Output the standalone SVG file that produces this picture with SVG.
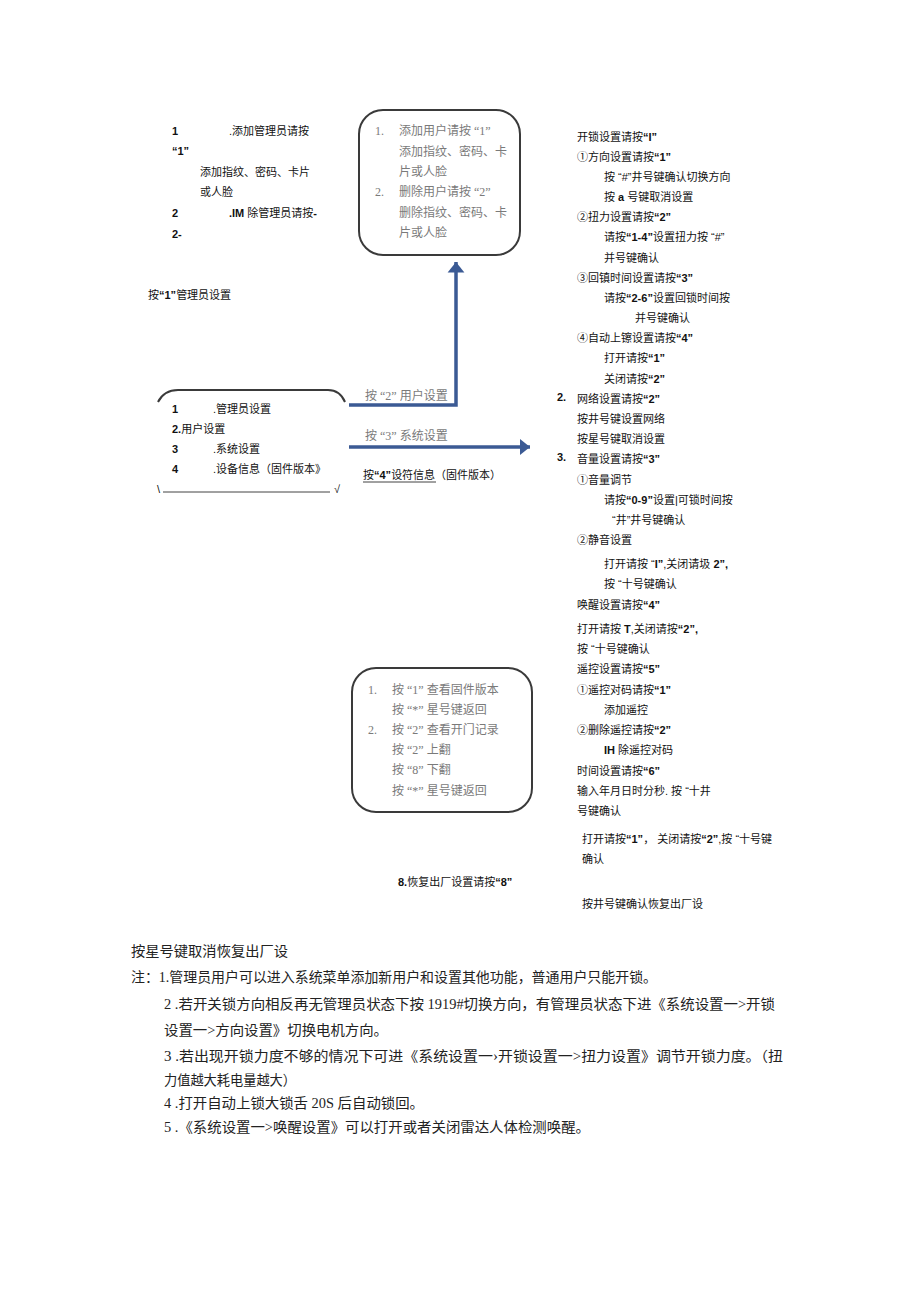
<svg xmlns="http://www.w3.org/2000/svg" width="920" height="1301" viewBox="0 0 920 1301">
<style>
.t{font-family:"Liberation Sans","Noto Sans CJK SC",sans-serif;font-size:11px;fill:#111}
.b{font-weight:bold}
.g{font-family:"Liberation Serif","Noto Sans CJK SC",serif;font-size:12px;fill:#7a7a7a}
.n{font-family:"Liberation Serif","Noto Sans CJK SC",serif;font-size:14px;fill:#222}
.box{fill:none;stroke:#3a3a3a;stroke-width:2}
.arr{fill:none;stroke:#3b5a94;stroke-width:3.5}
</style>
<defs>
<marker id="ah" markerWidth="6" markerHeight="6" refX="3" refY="3" orient="auto" markerUnits="strokeWidth">
<path d="M0,0.6 L3,3 L0,5.4 Z" fill="#3b5a94"/>
</marker>
</defs>
<rect width="920" height="1301" fill="#fff"/>

<g id="admin-notes">
<text class="t b" x="172" y="135">1</text>
<text class="t" x="229" y="135">.添加管理员请按</text>
<text class="t b" x="172" y="155">“1”</text>
<text class="t" x="200" y="176">添加指纹、密码、卡片</text>
<text class="t" x="200" y="196">或人脸</text>
<text class="t b" x="172" y="217">2</text>
<text class="t" x="229" y="217"><tspan class="b">.IM</tspan> 除管理员请按<tspan class="b">-</tspan></text>
<text class="t b" x="172" y="238">2-</text>
<text class="t" x="148" y="299">按<tspan class="b">“1”</tspan>管理员设置</text>
</g>

<g id="user-box">
<rect class="box" x="359" y="110" width="161" height="145" rx="24"/>
<text class="g" x="375" y="135">1.</text>
<text class="g" x="399" y="135">添加用户请按 “1”</text>
<text class="g" x="399" y="156">添加指纹、密码、卡</text>
<text class="g" x="399" y="176">片或人脸</text>
<text class="g" x="375" y="196">2.</text>
<text class="g" x="399" y="196">删除用户请按 “2”</text>
<text class="g" x="399" y="217">删除指纹、密码、卡</text>
<text class="g" x="399" y="237">片或人脸</text>
</g>

<g id="main-menu">
<path class="box" d="M158,402 Q164,390 178,390 L328,390 Q340,390 345,402" stroke-width="1.5"/>
<text class="t b" x="172" y="413">1</text>
<text class="t" x="213" y="413">.管理员设置</text>
<text class="t" x="172" y="433"><tspan class="b">2.</tspan>用户设置</text>
<text class="t b" x="172" y="453">3</text>
<text class="t" x="213" y="453">.系统设置</text>
<text class="t b" x="172" y="473">4</text>
<text class="t" x="213" y="473">.设备信息（固件版本》</text>
<text class="t" x="157" y="493">\</text>
<line x1="163" y1="492" x2="330" y2="492" stroke="#111" stroke-width="0.8"/>
<text class="t" x="334" y="493" font-size="9">√</text>
</g>

<g id="connectors">
<path class="arr" d="M349,405 L456,405 L456,262" marker-end="url(#ah)"/>
<path class="arr" d="M349,447 L530,447" marker-end="url(#ah)"/>
<text class="g" x="365" y="400">按 “2” 用户设置</text>
<text class="g" x="365" y="440">按 “3” 系统设置</text>
<text class="t" x="363" y="479">按<tspan class="b">“4”</tspan>设符信息（固件版本）</text>
<line x1="363" y1="482" x2="436" y2="482" stroke="#111" stroke-width="0.8"/>
</g>

<g id="system-settings">
<text class="t" x="577" y="141">开锁设置请按<tspan class="b">“I”</tspan></text>
<text class="t" x="577" y="161">①方向设置请按<tspan class="b">“1”</tspan></text>
<text class="t" x="604" y="181">按 “#”井号键确认切换方向</text>
<text class="t" x="604" y="201">按 <tspan class="b">a</tspan> 号键取消设置</text>
<text class="t" x="577" y="221">②扭力设置请按<tspan class="b">“2”</tspan></text>
<text class="t" x="604" y="241">请按<tspan class="b">“1-4”</tspan>设置扭力按 “#”</text>
<text class="t" x="604" y="262">并号键确认</text>
<text class="t" x="577" y="282">③回镇时间设置请按<tspan class="b">“3”</tspan></text>
<text class="t" x="604" y="302">请按<tspan class="b">“2-6”</tspan>设置回锁时间按</text>
<text class="t" x="635" y="322">并号键确认</text>
<text class="t" x="577" y="342">④自动上镲设置请按<tspan class="b">“4”</tspan></text>
<text class="t" x="604" y="362">打开请按<tspan class="b">“1”</tspan></text>
<text class="t" x="604" y="383">关闭请按<tspan class="b">“2”</tspan></text>
<text class="t b" x="557" y="401">2.</text>
<text class="t" x="577" y="403">网络设置请按<tspan class="b">“2”</tspan></text>
<text class="t" x="577" y="423">按井号键设置网络</text>
<text class="t" x="577" y="443">按星号键取消设置</text>
<text class="t b" x="557" y="461">3.</text>
<text class="t" x="577" y="463">音量设置请按<tspan class="b">“3”</tspan></text>
<text class="t" x="577" y="484">①音量调节</text>
<text class="t" x="604" y="504">请按<tspan class="b">“0-9”</tspan>设置|可锁时间按</text>
<text class="t" x="612" y="524">“井”井号键确认</text>
<text class="t" x="577" y="544">②静音设置</text>
<text class="t" x="604" y="568">打开请按 “<tspan class="b">I”</tspan>,关闭请圾 <tspan class="b">2”,</tspan></text>
<text class="t" x="604" y="588">按 “十号键确认</text>
<text class="t" x="577" y="609">唤醒设置请按<tspan class="b">“4”</tspan></text>
<text class="t" x="577" y="633">打开请按 <tspan class="b">T</tspan>,关闭请按<tspan class="b">“2”,</tspan></text>
<text class="t" x="577" y="653">按 “十号键确认</text>
<text class="t" x="577" y="673">遥控设置请按<tspan class="b">“5”</tspan></text>
<text class="t" x="577" y="694">①遥控对码请按<tspan class="b">“1”</tspan></text>
<text class="t" x="604" y="714">添加遥控</text>
<text class="t" x="577" y="734">②删除遥控请按<tspan class="b">“2”</tspan></text>
<text class="t" x="604" y="754"><tspan class="b">IH</tspan> 除遥控对码</text>
<text class="t" x="577" y="775">时间设置请按<tspan class="b">“6”</tspan></text>
<text class="t" x="577" y="795">输入年月日时分秒. 按 “十井</text>
<text class="t" x="577" y="815">号键确认</text>
<text class="t" x="582" y="843">打开请按<tspan class="b">“1”</tspan>， 关闭请按<tspan class="b">“2”</tspan>,按 “十号键</text>
<text class="t" x="582" y="863">确认</text>
<text class="t" x="398" y="886"><tspan class="b">8.</tspan>恢复出厂设置请按<tspan class="b">“8”</tspan></text>
<text class="t" x="582" y="908">按井号键确认恢复出厂设</text>
</g>

<g id="info-box">
<rect class="box" x="352" y="668" width="180" height="144" rx="24"/>
<text class="g" x="368" y="694">1.</text>
<text class="g" x="392" y="694">按 “1” 查看固件版本</text>
<text class="g" x="392" y="714">按 “*” 星号键返回</text>
<text class="g" x="368" y="734">2.</text>
<text class="g" x="392" y="734">按 “2” 查看开门记录</text>
<text class="g" x="392" y="754">按 “2” 上翻</text>
<text class="g" x="392" y="774">按 “8” 下翻</text>
<text class="g" x="392" y="795">按 “*” 星号键返回</text>
</g>

<g id="notes">
<text class="n" x="131" y="956" textLength="157" lengthAdjust="spacingAndGlyphs">按星号键取消恢复出厂设</text>
<text class="n" x="131" y="982" textLength="526" lengthAdjust="spacingAndGlyphs">注：1.管理员用户可以进入系统菜单添加新用户和设置其他功能，普通用户只能开锁。</text>
<text class="n" x="164" y="1009" textLength="611" lengthAdjust="spacingAndGlyphs">2 .若开关锁方向相反再无管理员状态下按 1919#切换方向，有管理员状态下进《系统设置一&gt;开锁</text>
<text class="n" x="164" y="1035" textLength="224" lengthAdjust="spacingAndGlyphs">设置一&gt;方向设置》切换电机方向。</text>
<text class="n" x="164" y="1061" textLength="619" lengthAdjust="spacingAndGlyphs">3 .若出现开锁力度不够的情况下可进《系统设置一›开锁设置一&gt;扭力设置》调节开锁力度。（扭</text>
<text class="n" x="164" y="1085" textLength="132" lengthAdjust="spacingAndGlyphs">力值越大耗电量越大）</text>
<text class="n" x="164" y="1108" textLength="260" lengthAdjust="spacingAndGlyphs">4 .打开自动上锁大锁舌 20S 后自动锁回。</text>
<text class="n" x="164" y="1132" textLength="426" lengthAdjust="spacingAndGlyphs">5 .《系统设置一&gt;唤醒设置》可以打开或者关闭雷达人体检测唤醒。</text>
</g>
</svg>
